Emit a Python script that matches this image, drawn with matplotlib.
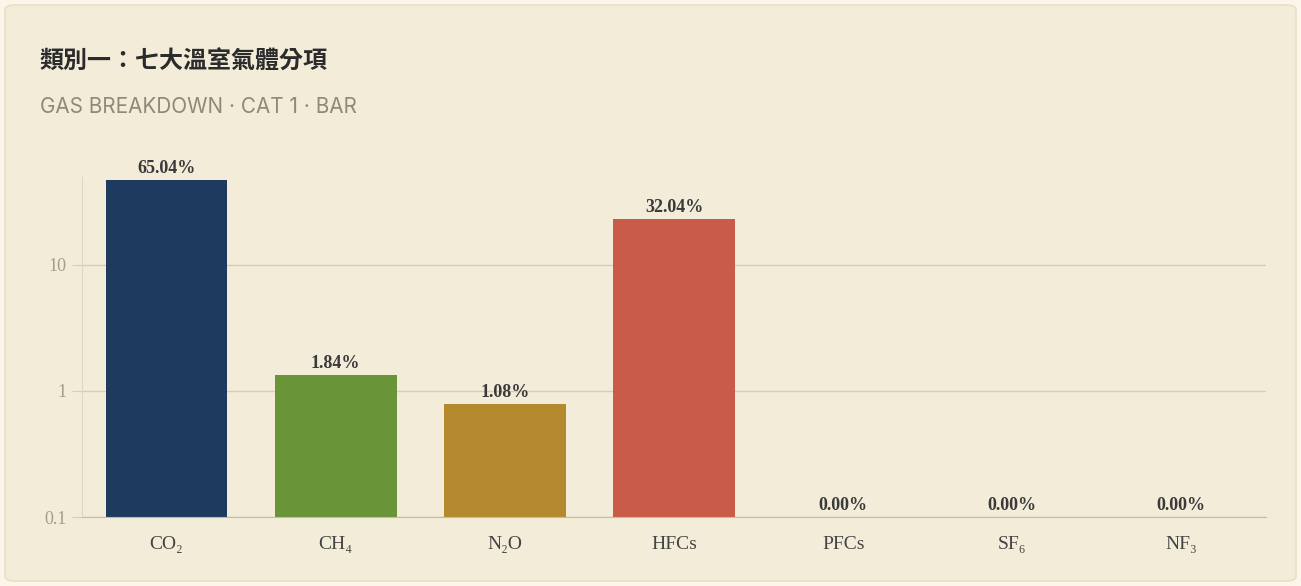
import matplotlib
matplotlib.use("Agg")
import matplotlib.pyplot as plt
from matplotlib.patches import FancyBboxPatch
from matplotlib.ticker import FixedLocator, FixedFormatter, NullLocator

# data (emissions, shares computed from these)
gases = ["CO₂", "CH₄", "N₂O", "HFCs", "PFCs", "SF₆", "NF₃"]
values = [47.3, 1.34, 0.785, 23.3, 0.0, 0.0, 0.0]
colors = ["#1e3a5f", "#6a9438", "#b5892e", "#c95c49", "#8a8a8a", "#8a8a8a", "#8a8a8a"]
y_ticks = [0.1, 1, 10]
y_tick_labels = ["0.1", "1", "10"]

title = "類別一：七大溫室氣體分項"
subtitle = "GAS BREAKDOWN · CAT 1 · BAR"

BG_OUT = "#fbf5ea"
BG_CARD = "#f3ecd9"
GRID = "#d8cdb0"
SERIF = ["Liberation Serif", "DejaVu Serif"]

total = sum(values)
shares = [v / total * 100 for v in values]

fig = plt.figure(figsize=(13.01, 5.86), dpi=100)
fig.patch.set_facecolor(BG_OUT)

card = FancyBboxPatch((5 / 1301, 5 / 586), 1291 / 1301, 576 / 586,
                      boxstyle="round,pad=0,rounding_size=0.008",
                      transform=fig.transFigure, facecolor=BG_CARD,
                      edgecolor="#e9dfc4", lw=1.2, zorder=-1)
fig.patches.append(card)

fig.text(40 / 1301, 1 - 62 / 586, title, family=["Noto Sans CJK TC", "DejaVu Sans"],
         fontsize=17.3, fontweight="bold", color="#2b2b2b", va="center", ha="left")
fig.text(40 / 1301, 1 - 107 / 586, subtitle, family=["Inter", "DejaVu Sans"],
         fontsize=14.9, color="#8e8a78", va="center", ha="left")

ax = fig.add_axes([82 / 1301, 69 / 586, (1266 - 82) / 1301, (517 - 177) / 586])
ax.set_facecolor("none")
ax.set_zorder(2)

x = list(range(len(gases)))
ax.bar(x, values, width=0.72, color=colors, edgecolor="none", zorder=3)
ax.set_yscale("log")
ax.set_ylim(0.1, max(values) * 1.055)
ax.set_xlim(-0.5, len(gases) - 0.5)

for i, (v, s) in enumerate(zip(values, shares)):
    base = v if v > 0 else 0.1
    ax.annotate(f"{s:.2f}%", (i, base), xytext=(0, 2), textcoords="offset points",
                ha="center", va="bottom", family=SERIF, fontsize=13,
                fontweight="bold", color="#3a3a3a", zorder=4)

ax.yaxis.set_major_locator(FixedLocator(y_ticks))
ax.yaxis.set_major_formatter(FixedFormatter(y_tick_labels))
ax.yaxis.set_minor_locator(NullLocator())
ax.grid(axis="y", color=GRID, lw=1, zorder=1)
ax.tick_params(axis="y", length=7, color=GRID, labelcolor="#a39d8a", labelsize=13, pad=4)
ax.set_xticks(x)
ax.set_xticklabels(gases)
ax.tick_params(axis="x", length=0, labelcolor="#444444", labelsize=14, pad=14)
for lab in ax.get_xticklabels() + ax.get_yticklabels():
    lab.set_family(SERIF)

for side in ["top", "right"]:
    ax.spines[side].set_visible(False)
ax.spines["left"].set_color("#e0d7bf")
ax.spines["bottom"].set_color("#c9bc98")
ax.spines["bottom"].set_zorder(5)

fig.savefig("out.png", dpi=100, facecolor=fig.get_facecolor())
